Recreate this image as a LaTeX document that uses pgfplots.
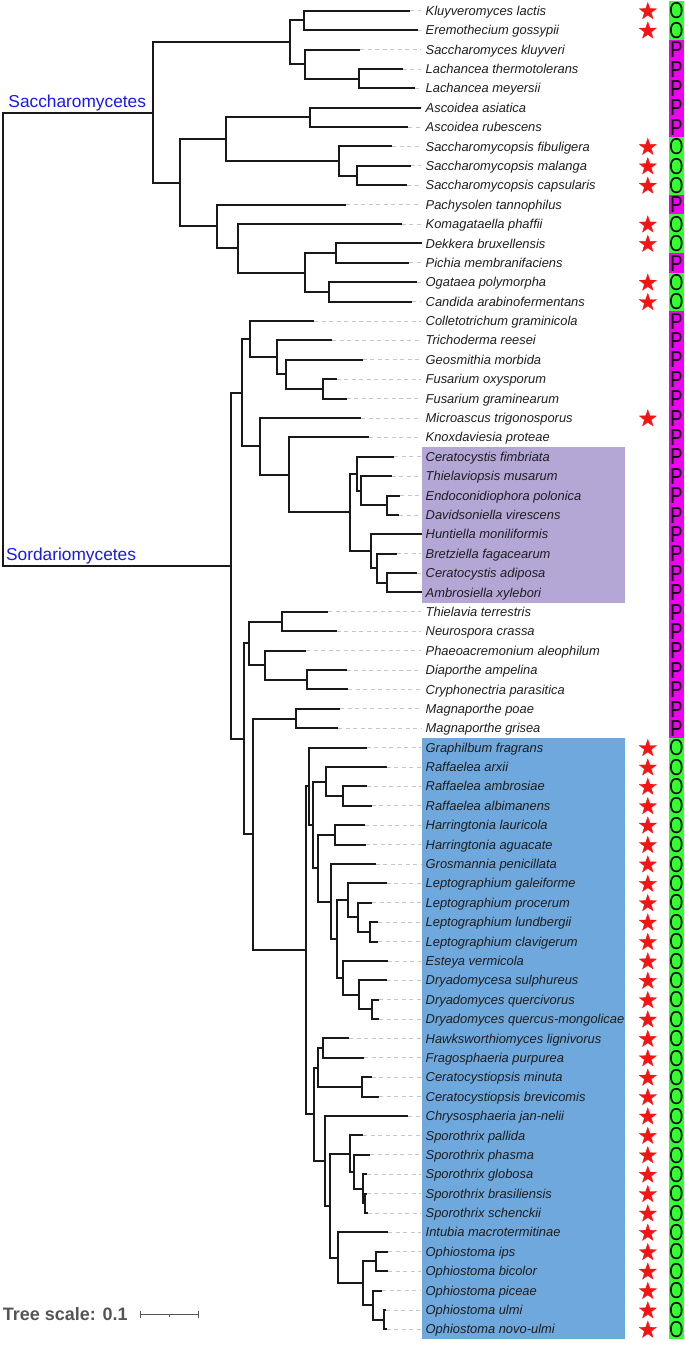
\documentclass[border=0pt]{standalone}
\usepackage{pgfplots}
\pgfplotsset{compat=1.18}
\usepackage{graphicx}
\usepackage{fontspec}
\setmainfont{Liberation Sans}
\definecolor{treec}{RGB}{25,25,25}
\definecolor{lav}{RGB}{180,167,214}
\definecolor{bluebox}{RGB}{111,168,220}
\definecolor{ogreen}{RGB}{51,255,51}
\definecolor{pmag}{RGB}{240,0,240}
\definecolor{starred}{RGB}{245,20,20}
\definecolor{cladeblue}{RGB}{25,25,235}
\definecolor{scalegray}{RGB}{85,85,85}
\definecolor{labc}{RGB}{30,30,30}
\pgfdeclareplotmark{fstar}{%
 \pgfpathmoveto{\pgfpointpolar{90}{\pgfplotmarksize}}%
 \pgfpathlineto{\pgfpointpolar{126}{0.4\pgfplotmarksize}}%
 \pgfpathlineto{\pgfpointpolar{162}{\pgfplotmarksize}}%
 \pgfpathlineto{\pgfpointpolar{198}{0.4\pgfplotmarksize}}%
 \pgfpathlineto{\pgfpointpolar{234}{\pgfplotmarksize}}%
 \pgfpathlineto{\pgfpointpolar{270}{0.4\pgfplotmarksize}}%
 \pgfpathlineto{\pgfpointpolar{306}{\pgfplotmarksize}}%
 \pgfpathlineto{\pgfpointpolar{342}{0.4\pgfplotmarksize}}%
 \pgfpathlineto{\pgfpointpolar{18}{\pgfplotmarksize}}%
 \pgfpathlineto{\pgfpointpolar{54}{0.4\pgfplotmarksize}}%
 \pgfpathclose\pgfusepathqfillstroke}
\tikzset{
 leaflab/.style={anchor=base west, inner sep=0pt, yshift=-4.6pt, font=\fontsize{12.9}{14}\selectfont\itshape, text=labc},
 letlab/.style={anchor=base, inner sep=0pt, yshift=-8.2pt, font=\fontsize{23}{23}\selectfont, text=black}
}
\newcommand{\leaf}[3]{\node[leaflab] at (axis cs:425.5,#1) {#2};\node[letlab] at (axis cs:676.5,#1) {\scalebox{0.79}[1]{#3}};}
\begin{document}
\begin{tikzpicture}
\begin{axis}[scale only axis, width=685pt, height=1345pt,
  xmin=0, xmax=685, ymin=0, ymax=1345, y dir=reverse,
  hide axis, clip=false, unbounded coords=jump]
\addplot[draw=none, mark=none] coordinates {(0,0) (685,1345)};
% highlight boxes
\addplot[fill=lav, draw=none, mark=none] coordinates {(422,447.3) (625.3,447.3) (625.3,602.7) (422,602.7)} --cycle;
\addplot[fill=bluebox, draw=none, mark=none] coordinates {(422,738.0) (625.3,738.0) (625.3,1339.0) (422,1339.0)} --cycle;
% O/P strip
\addplot[fill=pmag, draw=none, mark=none] coordinates {(669,1.0) (684,1.0) (684,1339.0) (669,1339.0)} --cycle;
\addplot[fill=ogreen, draw=none, mark=none] coordinates {(669,1.0) (684,1.0) (684,39.8) (669,39.8)} --cycle;
\addplot[fill=ogreen, draw=none, mark=none] coordinates {(669,136.7) (684,136.7) (684,194.9) (669,194.9)} --cycle;
\addplot[fill=ogreen, draw=none, mark=none] coordinates {(669,214.3) (684,214.3) (684,253.1) (669,253.1)} --cycle;
\addplot[fill=ogreen, draw=none, mark=none] coordinates {(669,272.5) (684,272.5) (684,311.3) (669,311.3)} --cycle;
\addplot[fill=ogreen, draw=none, mark=none] coordinates {(669,737.9) (684,737.9) (684,1339.0) (669,1339.0)} --cycle;
% dashed leaders
\addplot[quiver={u={max(421-\thisrow{x},0)}, v=0}, mark=none, black!22, line width=0.8pt, dash pattern=on 4pt off 3.5pt] table[x=x, y=y, row sep=\\] {
x y \\
410 10.7 \\ 418.3 30.1 \\ 360 49.5 \\ 402.7 68.9 \\ 415 88.3 \\ 420.7 107.7 \\ 408.3 127.0 \\ 392.3 146.4 \\ 410.7 165.8 \\ 407.3 185.2 \\
346 204.6 \\ 401.7 224.0 \\ 421.7 243.4 \\ 409.3 262.8 \\ 416.7 282.2 \\ 412.3 301.6 \\ 314 321.0 \\ 332.3 340.3 \\ 362.7 359.7 \\ 336.7 379.1 \\
346.7 398.5 \\ 361 417.9 \\ 369.3 437.3 \\ 394.3 456.7 \\ 391.7 476.1 \\ 400 495.5 \\ 399.3 514.9 \\ 421.7 534.3 \\ 396.7 553.6 \\ 416.7 573.0 \\
421.7 592.4 \\ 328.3 611.8 \\ 336.7 631.2 \\ 306 650.6 \\ 346.7 670.0 \\ 348.3 689.4 \\ 340 708.8 \\ 338.3 728.2 \\ 366.7 747.6 \\ 386.7 767.0 \\
366.7 786.3 \\ 371.7 805.7 \\ 365 825.1 \\ 365.7 844.5 \\ 375.7 863.9 \\ 386.7 883.3 \\ 372.3 902.7 \\ 378.3 922.1 \\ 378.3 941.5 \\ 387.7 960.9 \\
386.7 980.3 \\ 379.3 999.7 \\ 379 1019.0 \\ 349.3 1038.4 \\ 364.3 1057.8 \\ 371.7 1077.2 \\ 379 1096.6 \\ 408.3 1116.0 \\ 363.3 1135.4 \\ 370 1154.8 \\
366.7 1174.2 \\ 366.7 1193.6 \\ 367.7 1213.0 \\ 388.3 1232.3 \\ 388.3 1251.7 \\ 388.3 1271.1 \\ 382.3 1290.5 \\ 386 1309.9 \\ 386.7 1329.3 \\
};
% tree branches
\addplot[treec, line width=2pt, mark=none] table[x=x, y=y, row sep=\\] {
x y \\
153.3 112.5 \\ 2.5 112.5 \\ 2.5 565.8 \\ 231.3 565.8 \\ nan nan \\
290 42.2 \\ 153.3 42.2 \\ 153.3 182.8 \\ 180 182.8 \\ nan nan \\
304 20.4 \\ 290 20.4 \\ 290 64.05 \\ 305.3 64.05 \\ nan nan \\
410 10.7 \\ 304 10.7 \\ 304 30.1 \\ 418.3 30.1 \\ nan nan \\
360 49.5 \\ 305.3 49.5 \\ 305.3 78.6 \\ 359 78.6 \\ nan nan \\
402.7 68.9 \\ 359 68.9 \\ 359 88.3 \\ 415 88.3 \\ nan nan \\
226 139.15 \\ 180 139.15 \\ 180 226.4 \\ 216.7 226.4 \\ nan nan \\
310 117.35 \\ 226 117.35 \\ 226 160.95 \\ 339 160.95 \\ nan nan \\
420.7 107.7 \\ 310 107.7 \\ 310 127.0 \\ 408.3 127.0 \\ nan nan \\
392.3 146.4 \\ 339 146.4 \\ 339 175.5 \\ 357.3 175.5 \\ nan nan \\
410.7 165.8 \\ 357.3 165.8 \\ 357.3 185.2 \\ 407.3 185.2 \\ nan nan \\
346 204.6 \\ 216.7 204.6 \\ 216.7 248.25 \\ 237.7 248.25 \\ nan nan \\
401.7 224.0 \\ 237.7 224.0 \\ 237.7 272.5 \\ 305 272.5 \\ nan nan \\
336 253.1 \\ 305 253.1 \\ 305 291.9 \\ 329.3 291.9 \\ nan nan \\
421.7 243.4 \\ 336 243.4 \\ 336 262.8 \\ 409.3 262.8 \\ nan nan \\
416.7 282.2 \\ 329.3 282.2 \\ 329.3 301.6 \\ 412.3 301.6 \\ nan nan \\
241.7 392.8 \\ 231.3 392.8 \\ 231.3 738.8 \\ 244.3 738.8 \\ nan nan \\
250 339.15 \\ 241.7 339.15 \\ 241.7 446.4 \\ 260.3 446.4 \\ nan nan \\
314 321.0 \\ 250 321.0 \\ 250 357.3 \\ 277 357.3 \\ nan nan \\
332.3 340.3 \\ 277 340.3 \\ 277 374.25 \\ 285.7 374.25 \\ nan nan \\
362.7 359.7 \\ 285.7 359.7 \\ 285.7 388.8 \\ 323.3 388.8 \\ nan nan \\
336.7 379.1 \\ 323.3 379.1 \\ 323.3 398.5 \\ 346.7 398.5 \\ nan nan \\
361 417.9 \\ 260.3 417.9 \\ 260.3 474.9 \\ 289 474.9 \\ nan nan \\
369.3 437.3 \\ 289 437.3 \\ 289 512.45 \\ 349.7 512.45 \\ nan nan \\
356.7 473.7 \\ 349.7 473.7 \\ 349.7 551.2 \\ 371 551.2 \\ nan nan \\
394.3 456.7 \\ 356.7 456.7 \\ 356.7 490.65 \\ 361 490.65 \\ nan nan \\
391.7 476.1 \\ 361 476.1 \\ 361 505.2 \\ 387.3 505.2 \\ nan nan \\
400 495.5 \\ 387.3 495.5 \\ 387.3 514.9 \\ 399.3 514.9 \\ nan nan \\
421.7 534.3 \\ 371 534.3 \\ 371 568.15 \\ 377 568.15 \\ nan nan \\
396.7 553.6 \\ 377 553.6 \\ 377 582.7 \\ 387.3 582.7 \\ nan nan \\
416.7 573.0 \\ 387.3 573.0 \\ 387.3 592.4 \\ 421.7 592.4 \\ nan nan \\
249.3 643.3 \\ 244.3 643.3 \\ 244.3 834.35 \\ 253.3 834.35 \\ nan nan \\
282.3 621.5 \\ 249.3 621.5 \\ 249.3 665.15 \\ 265.3 665.15 \\ nan nan \\
328.3 611.8 \\ 282.3 611.8 \\ 282.3 631.2 \\ 336.7 631.2 \\ nan nan \\
306 650.6 \\ 265.3 650.6 \\ 265.3 679.7 \\ 306.7 679.7 \\ nan nan \\
346.7 670.0 \\ 306.7 670.0 \\ 306.7 689.4 \\ 348.3 689.4 \\ nan nan \\
295.7 718.5 \\ 253.3 718.5 \\ 253.3 950.2 \\ 306 950.2 \\ nan nan \\
340 708.8 \\ 295.7 708.8 \\ 295.7 728.2 \\ 338.3 728.2 \\ nan nan \\
309.3 786.2 \\ 306 786.2 \\ 306 1114.2 \\ 313.7 1114.2 \\ nan nan \\
366.7 747.6 \\ 309.3 747.6 \\ 309.3 824.8 \\ 312.7 824.8 \\ nan nan \\
325.7 781.5 \\ 312.7 781.5 \\ 312.7 868.15 \\ 318.3 868.15 \\ nan nan \\
386.7 767.0 \\ 325.7 767.0 \\ 325.7 796 \\ 343 796 \\ nan nan \\
366.7 786.3 \\ 343 786.3 \\ 343 805.7 \\ 371.7 805.7 \\ nan nan \\
334.7 834.8 \\ 318.3 834.8 \\ 318.3 901.5 \\ 330.7 901.5 \\ nan nan \\
365 825.1 \\ 334.7 825.1 \\ 334.7 844.5 \\ 365.7 844.5 \\ nan nan \\
375.7 863.9 \\ 330.7 863.9 \\ 330.7 939.1 \\ 337.3 939.1 \\ nan nan \\
347.7 900.3 \\ 337.3 900.3 \\ 337.3 977.85 \\ 343.3 977.85 \\ nan nan \\
386.7 883.3 \\ 347.7 883.3 \\ 347.7 917.25 \\ 357.7 917.25 \\ nan nan \\
372.3 902.7 \\ 357.7 902.7 \\ 357.7 931.8 \\ 370 931.8 \\ nan nan \\
378.3 922.1 \\ 370 922.1 \\ 370 941.5 \\ 378.3 941.5 \\ nan nan \\
387.7 960.9 \\ 343.3 960.9 \\ 343.3 994.8 \\ 359.3 994.8 \\ nan nan \\
386.7 980.3 \\ 359.3 980.3 \\ 359.3 1009.35 \\ 372.3 1009.35 \\ nan nan \\
379.3 999.7 \\ 372.3 999.7 \\ 372.3 1019.0 \\ 379 1019.0 \\ nan nan \\
317.7 1067.5 \\ 313.7 1067.5 \\ 313.7 1160.85 \\ 325.3 1160.85 \\ nan nan \\
322.7 1048.1 \\ 317.7 1048.1 \\ 317.7 1086.9 \\ 362 1086.9 \\ nan nan \\
349.3 1038.4 \\ 322.7 1038.4 \\ 322.7 1057.8 \\ 364.3 1057.8 \\ nan nan \\
371.7 1077.2 \\ 362 1077.2 \\ 362 1096.6 \\ 379 1096.6 \\ nan nan \\
408.3 1116.0 \\ 325.3 1116.0 \\ 325.3 1205.7 \\ 330.3 1205.7 \\ nan nan \\
350.3 1153.6 \\ 330.3 1153.6 \\ 330.3 1257.75 \\ 337.7 1257.75 \\ nan nan \\
363.3 1135.4 \\ 350.3 1135.4 \\ 350.3 1171.8 \\ 354.3 1171.8 \\ nan nan \\
370 1154.8 \\ 354.3 1154.8 \\ 354.3 1188.75 \\ 362.7 1188.75 \\ nan nan \\
366.7 1174.2 \\ 362.7 1174.2 \\ 362.7 1203.3 \\ 365.3 1203.3 \\ nan nan \\
366.7 1193.6 \\ 365.3 1193.6 \\ 365.3 1213.0 \\ 367.7 1213.0 \\ nan nan \\
388.3 1232.3 \\ 337.7 1232.3 \\ 337.7 1283.2 \\ 363.3 1283.2 \\ nan nan \\
375.7 1261.4 \\ 363.3 1261.4 \\ 363.3 1305.05 \\ 373.3 1305.05 \\ nan nan \\
388.3 1251.7 \\ 375.7 1251.7 \\ 375.7 1271.1 \\ 388.3 1271.1 \\ nan nan \\
382.3 1290.5 \\ 373.3 1290.5 \\ 373.3 1319.6 \\ 384 1319.6 \\ nan nan \\
386 1309.9 \\ 384 1309.9 \\ 384 1329.3 \\ 386.7 1329.3 \\
};
% scale bar
\addplot[scalegray, line width=1pt, mark=none] table[x=x, y=y, row sep=\\] {
x y \\
140 1314.3 \\ 198 1314.3 \\ nan nan \\
140 1310.8 \\ 140 1318 \\ nan nan \\
198 1310.8 \\ 198 1318 \\ nan nan \\
169 1314.3 \\ 169 1316.5 \\
};
% stars
\addplot[only marks, mark=fstar, mark size=9pt, starred, mark options={fill=starred, draw=starred, line width=0.3pt}] table[x=x, y=y, row sep=\\] {
x y \\
647.8 11.5 \\ 647.8 30.9 \\ 647.8 147.2 \\ 647.8 166.6 \\ 647.8 186.0 \\ 647.8 224.8 \\ 647.8 244.2 \\ 647.8 283.0 \\ 647.8 302.4 \\ 647.8 418.7 \\
647.8 748.4 \\ 647.8 767.8 \\ 647.8 787.1 \\ 647.8 806.5 \\ 647.8 825.9 \\ 647.8 845.3 \\ 647.8 864.7 \\ 647.8 884.1 \\ 647.8 903.5 \\ 647.8 922.9 \\
647.8 942.3 \\ 647.8 961.7 \\ 647.8 981.1 \\ 647.8 1000.5 \\ 647.8 1019.8 \\ 647.8 1039.2 \\ 647.8 1058.6 \\ 647.8 1078.0 \\ 647.8 1097.4 \\ 647.8 1116.8 \\
647.8 1136.2 \\ 647.8 1155.6 \\ 647.8 1175.0 \\ 647.8 1194.4 \\ 647.8 1213.8 \\ 647.8 1233.1 \\ 647.8 1252.5 \\ 647.8 1271.9 \\ 647.8 1291.3 \\ 647.8 1310.7 \\
647.8 1330.1 \\
};
% clade labels
\node[anchor=base west, inner sep=0pt, text=cladeblue, font=\fontsize{17.3}{18}\selectfont] at (axis cs:8.3,107.3) {Saccharomycetes};
\node[anchor=base west, inner sep=0pt, text=cladeblue, font=\fontsize{17.3}{18}\selectfont] at (axis cs:6,560.7) {Sordariomycetes};
\node[anchor=base west, inner sep=0pt, text=scalegray, font=\fontsize{18}{19}\selectfont\bfseries] at (axis cs:2.7,1320) {Tree scale: 0.1};
% leaves
\leaf{10.7}{Kluyveromyces lactis}{O}
\leaf{30.1}{Eremothecium gossypii}{O}
\leaf{49.5}{Saccharomyces kluyveri}{P}
\leaf{68.9}{Lachancea thermotolerans}{P}
\leaf{88.3}{Lachancea meyersii}{P}
\leaf{107.7}{Ascoidea asiatica}{P}
\leaf{127.0}{Ascoidea rubescens}{P}
\leaf{146.4}{Saccharomycopsis fibuligera}{O}
\leaf{165.8}{Saccharomycopsis malanga}{O}
\leaf{185.2}{Saccharomycopsis capsularis}{O}
\leaf{204.6}{Pachysolen tannophilus}{P}
\leaf{224.0}{Komagataella phaffii}{O}
\leaf{243.4}{Dekkera bruxellensis}{O}
\leaf{262.8}{Pichia membranifaciens}{P}
\leaf{282.2}{Ogataea polymorpha}{O}
\leaf{301.6}{Candida arabinofermentans}{O}
\leaf{321.0}{Colletotrichum graminicola}{P}
\leaf{340.3}{Trichoderma reesei}{P}
\leaf{359.7}{Geosmithia morbida}{P}
\leaf{379.1}{Fusarium oxysporum}{P}
\leaf{398.5}{Fusarium graminearum}{P}
\leaf{417.9}{Microascus trigonosporus}{P}
\leaf{437.3}{Knoxdaviesia proteae}{P}
\leaf{456.7}{Ceratocystis fimbriata}{P}
\leaf{476.1}{Thielaviopsis musarum}{P}
\leaf{495.5}{Endoconidiophora polonica}{P}
\leaf{514.9}{Davidsoniella virescens}{P}
\leaf{534.3}{Huntiella moniliformis}{P}
\leaf{553.6}{Bretziella fagacearum}{P}
\leaf{573.0}{Ceratocystis adiposa}{P}
\leaf{592.4}{Ambrosiella xylebori}{P}
\leaf{611.8}{Thielavia terrestris}{P}
\leaf{631.2}{Neurospora crassa}{P}
\leaf{650.6}{Phaeoacremonium aleophilum}{P}
\leaf{670.0}{Diaporthe ampelina}{P}
\leaf{689.4}{Cryphonectria parasitica}{P}
\leaf{708.8}{Magnaporthe poae}{P}
\leaf{728.2}{Magnaporthe grisea}{P}
\leaf{747.6}{Graphilbum fragrans}{O}
\leaf{767.0}{Raffaelea arxii}{O}
\leaf{786.3}{Raffaelea ambrosiae}{O}
\leaf{805.7}{Raffaelea albimanens}{O}
\leaf{825.1}{Harringtonia lauricola}{O}
\leaf{844.5}{Harringtonia aguacate}{O}
\leaf{863.9}{Grosmannia penicillata}{O}
\leaf{883.3}{Leptographium galeiforme}{O}
\leaf{902.7}{Leptographium procerum}{O}
\leaf{922.1}{Leptographium lundbergii}{O}
\leaf{941.5}{Leptographium clavigerum}{O}
\leaf{960.9}{Esteya vermicola}{O}
\leaf{980.3}{Dryadomycesa sulphureus}{O}
\leaf{999.7}{Dryadomyces quercivorus}{O}
\leaf{1019.0}{Dryadomyces quercus-mongolicae}{O}
\leaf{1038.4}{Hawksworthiomyces lignivorus}{O}
\leaf{1057.8}{Fragosphaeria purpurea}{O}
\leaf{1077.2}{Ceratocystiopsis minuta}{O}
\leaf{1096.6}{Ceratocystiopsis brevicomis}{O}
\leaf{1116.0}{Chrysosphaeria jan-nelii}{O}
\leaf{1135.4}{Sporothrix pallida}{O}
\leaf{1154.8}{Sporothrix phasma}{O}
\leaf{1174.2}{Sporothrix globosa}{O}
\leaf{1193.6}{Sporothrix brasiliensis}{O}
\leaf{1213.0}{Sporothrix schenckii}{O}
\leaf{1232.3}{Intubia macrotermitinae}{O}
\leaf{1251.7}{Ophiostoma ips}{O}
\leaf{1271.1}{Ophiostoma bicolor}{O}
\leaf{1290.5}{Ophiostoma piceae}{O}
\leaf{1309.9}{Ophiostoma ulmi}{O}
\leaf{1329.3}{Ophiostoma novo-ulmi}{O}
\end{axis}
\end{tikzpicture}
\end{document}
